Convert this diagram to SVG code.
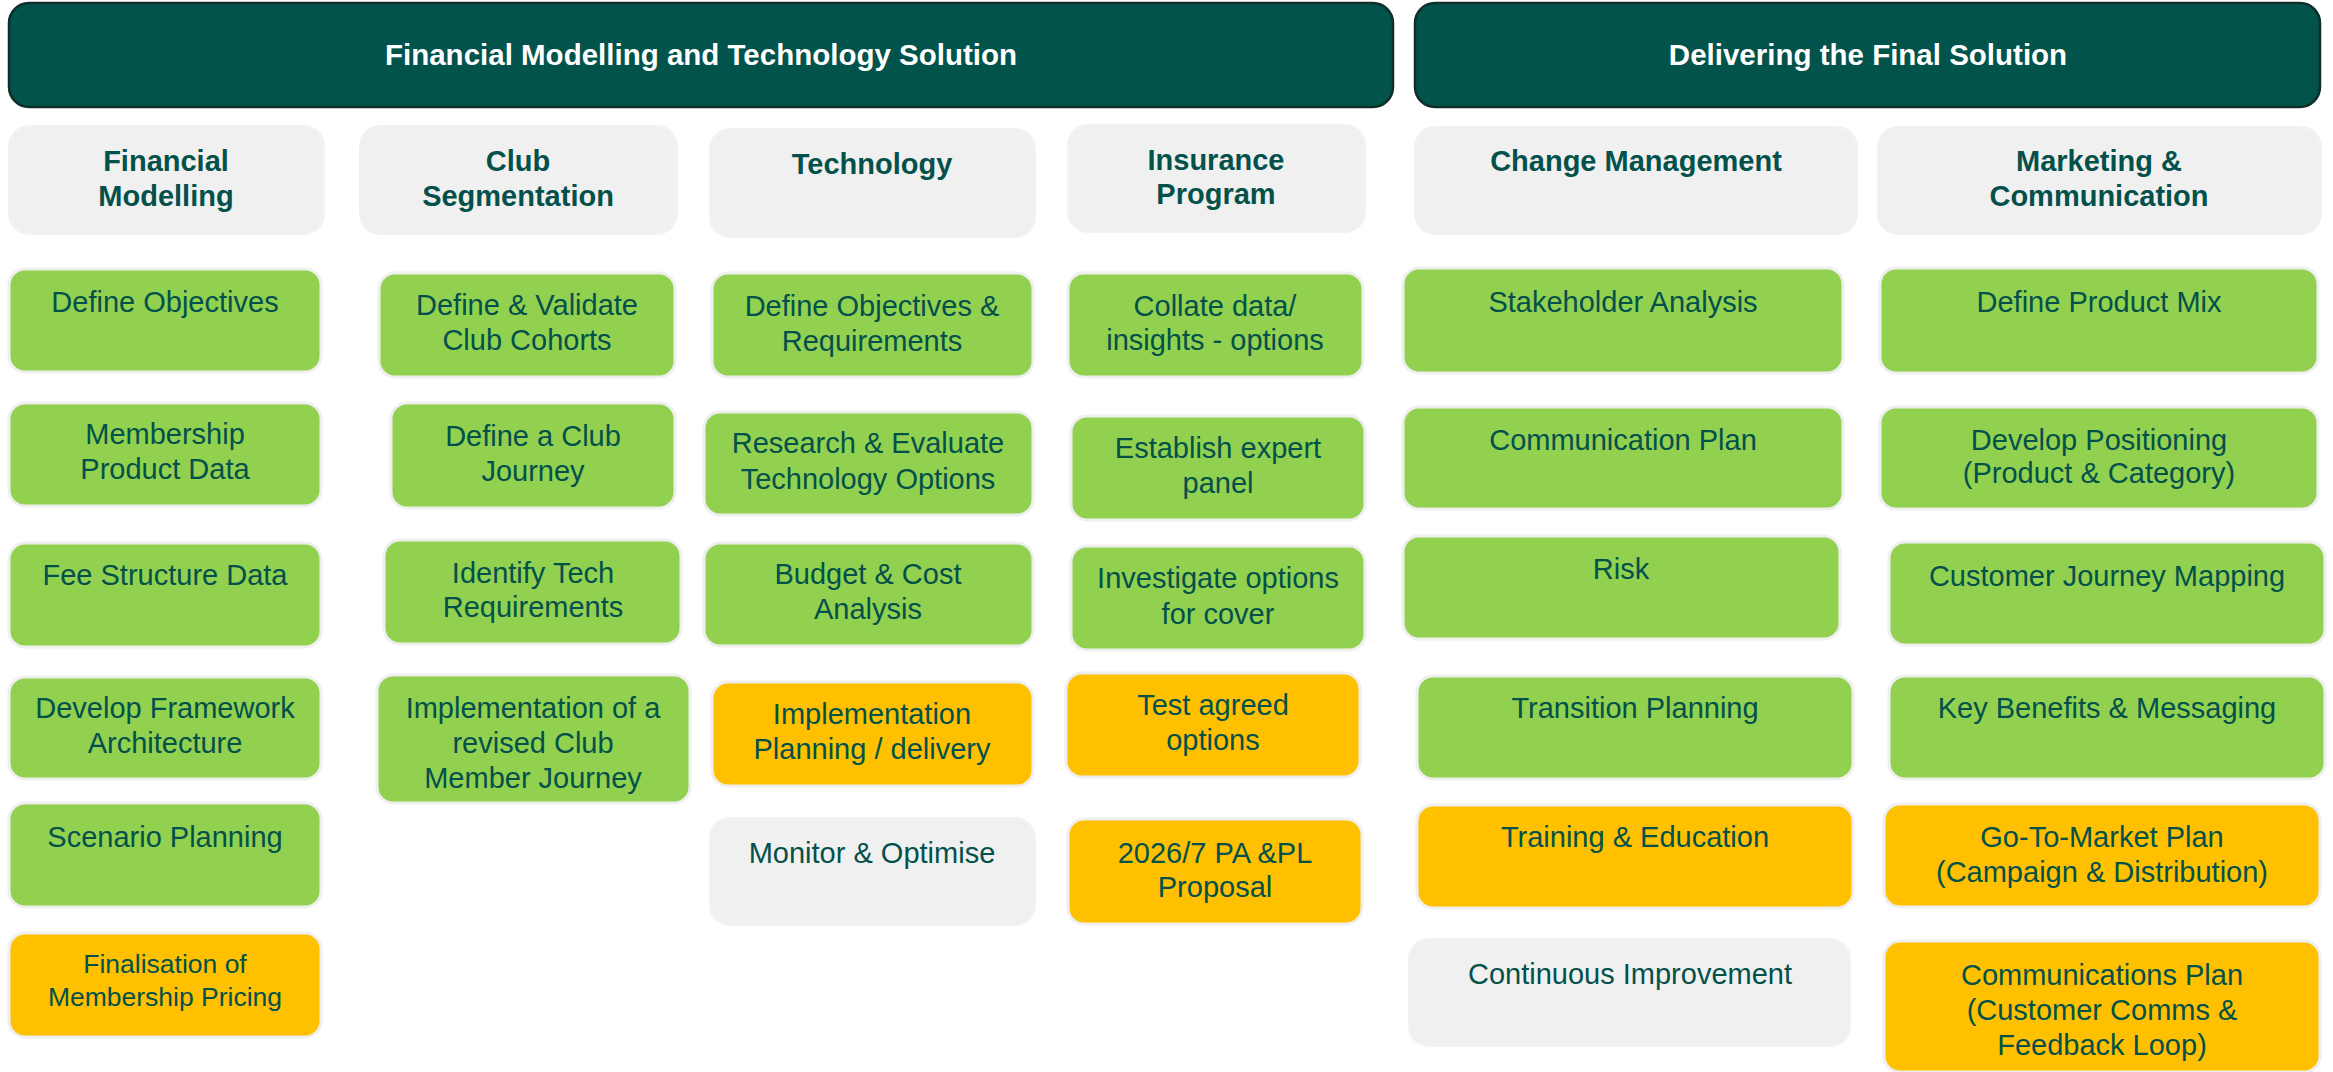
<svg xmlns="http://www.w3.org/2000/svg" width="2333" height="1072" viewBox="0 0 2333 1072">
<style>
text{font-family:"Liberation Sans",Arial,sans-serif;font-size:29px;fill:#03514A;text-anchor:middle}
.hd{fill:#02534B;stroke:#112F2A;stroke-width:2.5}
.hdt{fill:#FFFFFF;font-weight:bold;font-size:29.5px}
.col{fill:#F0F0F0;stroke:#F2F2F2;stroke-width:2}
.colt{font-weight:bold}
.g{fill:#92D050;stroke:#EFEFEF;stroke-width:3}
.o{fill:#FFC000;stroke:#EFEFEF;stroke-width:3}
.n{fill:#F0F0F0;stroke:#F2F2F2;stroke-width:2}
.sm{font-size:26.5px}
</style>
<rect width="2333" height="1072" fill="#FFFFFF"/>
<g id="connectors"/>
<g id="header-fmts"><rect class="hd" x="9" y="3" width="1384" height="104" rx="20"/><text class="hdt" x="701" y="65">Financial Modelling and Technology Solution</text></g>
<g id="header-dfs"><rect class="hd" x="1415" y="3" width="905" height="104" rx="20"/><text class="hdt" x="1868" y="65">Delivering the Final Solution</text></g>

<g id="col-financial"><rect class="col" x="9" y="126" width="315" height="108" rx="20"/><text class="colt" x="166" y="171">Financial</text><text class="colt" x="166" y="206">Modelling</text></g>
<g id="col-club"><rect class="col" x="360" y="126" width="317" height="108" rx="20"/><text class="colt" x="518" y="171">Club</text><text class="colt" x="518" y="206">Segmentation</text></g>
<g id="col-tech"><rect class="col" x="710" y="129" width="325" height="108" rx="20"/><text class="colt" x="872" y="174">Technology</text></g>
<g id="col-insurance"><rect class="col" x="1068" y="125" width="297" height="107" rx="20"/><text class="colt" x="1216" y="170">Insurance</text><text class="colt" x="1216" y="204">Program</text></g>
<g id="col-change"><rect class="col" x="1415" y="127" width="442" height="107" rx="20"/><text class="colt" x="1636" y="171">Change Management</text></g>
<g id="col-marketing"><rect class="col" x="1878" y="127" width="443" height="107" rx="20"/><text class="colt" x="2099" y="171">Marketing &amp;</text><text class="colt" x="2099" y="206">Communication</text></g>

<g id="fm-1"><rect class="g" x="9" y="269" width="312" height="103" rx="16"/><text x="165" y="312">Define Objectives</text></g>
<g id="fm-2"><rect class="g" x="9" y="403" width="312" height="103" rx="16"/><text x="165" y="444">Membership</text><text x="165" y="479">Product Data</text></g>
<g id="fm-3"><rect class="g" x="9" y="543" width="312" height="104" rx="16"/><text x="165" y="585">Fee Structure Data</text></g>
<g id="fm-4"><rect class="g" x="9" y="677" width="312" height="102" rx="16"/><text x="165" y="718">Develop Framework</text><text x="165" y="753">Architecture</text></g>
<g id="fm-5"><rect class="g" x="9" y="803" width="312" height="104" rx="16"/><text x="165" y="847">Scenario Planning</text></g>
<g id="fm-6"><rect class="o" x="9" y="933" width="312" height="104" rx="16"/><text class="sm" x="165" y="973">Finalisation of</text><text class="sm" x="165" y="1006">Membership Pricing</text></g>

<g id="cs-1"><rect class="g" x="379" y="273" width="296" height="104" rx="16"/><text x="527" y="315">Define &amp; Validate</text><text x="527" y="350">Club Cohorts</text></g>
<g id="cs-2"><rect class="g" x="391" y="403" width="284" height="105" rx="16"/><text x="533" y="446">Define a Club</text><text x="533" y="481">Journey</text></g>
<g id="cs-3"><rect class="g" x="384" y="540" width="297" height="104" rx="16"/><text x="533" y="583">Identify Tech</text><text x="533" y="617">Requirements</text></g>
<g id="cs-4"><rect class="g" x="377" y="675" width="313" height="128" rx="16"/><text x="533" y="718">Implementation of a</text><text x="533" y="753">revised Club</text><text x="533" y="788">Member Journey</text></g>

<g id="tc-1"><rect class="g" x="712" y="273" width="321" height="104" rx="16"/><text x="872" y="316">Define Objectives &amp;</text><text x="872" y="351">Requirements</text></g>
<g id="tc-2"><rect class="g" x="704" y="412" width="329" height="103" rx="16"/><text x="868" y="453">Research &amp; Evaluate</text><text x="868" y="489">Technology Options</text></g>
<g id="tc-3"><rect class="g" x="704" y="543" width="329" height="103" rx="16"/><text x="868" y="584">Budget &amp; Cost</text><text x="868" y="619">Analysis</text></g>
<g id="tc-4"><rect class="o" x="712" y="682" width="321" height="104" rx="16"/><text x="872" y="724">Implementation</text><text x="872" y="759">Planning / delivery</text></g>
<g id="tc-5"><rect class="n" x="710" y="818" width="325" height="107" rx="20"/><text x="872" y="863">Monitor &amp; Optimise</text></g>

<g id="ip-1"><rect class="g" x="1068" y="273" width="295" height="104" rx="16"/><text x="1215" y="316">Collate data/</text><text x="1215" y="350">insights - options</text></g>
<g id="ip-2"><rect class="g" x="1071" y="416" width="294" height="104" rx="16"/><text x="1218" y="458">Establish expert</text><text x="1218" y="493">panel</text></g>
<g id="ip-3"><rect class="g" x="1071" y="546" width="294" height="104" rx="16"/><text x="1218" y="588">Investigate options</text><text x="1218" y="624">for cover</text></g>
<g id="ip-4"><rect class="o" x="1066" y="673" width="294" height="104" rx="16"/><text x="1213" y="715">Test agreed</text><text x="1213" y="750">options</text></g>
<g id="ip-5"><rect class="o" x="1068" y="819" width="294" height="105" rx="16"/><text x="1215" y="863">2026/7 PA &amp;PL</text><text x="1215" y="897">Proposal</text></g>

<g id="cm-1"><rect class="g" x="1403" y="268" width="440" height="105" rx="16"/><text x="1623" y="312">Stakeholder Analysis</text></g>
<g id="cm-2"><rect class="g" x="1403" y="407" width="440" height="102" rx="16"/><text x="1623" y="450">Communication Plan</text></g>
<g id="cm-3"><rect class="g" x="1403" y="536" width="437" height="103" rx="16"/><text x="1621" y="579">Risk</text></g>
<g id="cm-4"><rect class="g" x="1417" y="676" width="436" height="103" rx="16"/><text x="1635" y="718">Transition Planning</text></g>
<g id="cm-5"><rect class="o" x="1417" y="805" width="436" height="103" rx="16"/><text x="1635" y="847">Training &amp; Education</text></g>
<g id="cm-6"><rect class="n" x="1409" y="939" width="441" height="107" rx="20"/><text x="1630" y="984">Continuous Improvement</text></g>

<g id="mc-1"><rect class="g" x="1880" y="268" width="438" height="105" rx="16"/><text x="2099" y="312">Define Product Mix</text></g>
<g id="mc-2"><rect class="g" x="1880" y="407" width="438" height="102" rx="16"/><text x="2099" y="450">Develop Positioning</text><text x="2099" y="483">(Product &amp; Category)</text></g>
<g id="mc-3"><rect class="g" x="1889" y="542" width="436" height="103" rx="16"/><text x="2107" y="586">Customer Journey Mapping</text></g>
<g id="mc-4"><rect class="g" x="1889" y="676" width="436" height="103" rx="16"/><text x="2107" y="718">Key Benefits &amp; Messaging</text></g>
<g id="mc-5"><rect class="o" x="1884" y="804" width="436" height="103" rx="16"/><text x="2102" y="847">Go-To-Market Plan</text><text x="2102" y="882">(Campaign &amp; Distribution)</text></g>
<g id="mc-6"><rect class="o" x="1884" y="941" width="436" height="131" rx="16"/><text x="2102" y="985">Communications Plan</text><text x="2102" y="1020">(Customer Comms &amp;</text><text x="2102" y="1055">Feedback Loop)</text></g>
</svg>
